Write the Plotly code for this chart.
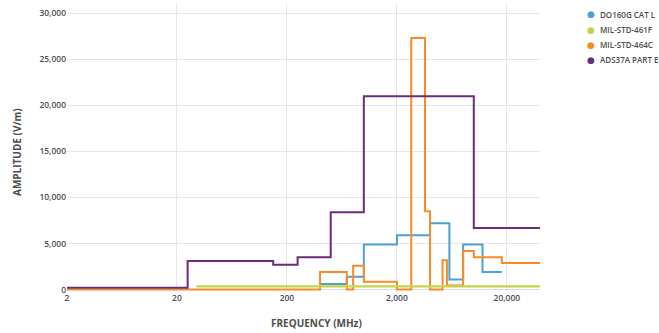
import math
import plotly.graph_objects as go

# ---- data ----
series_names = ["DO160G CAT L", "MIL-STD-461F", "MIL-STD-464C", "ADS37A PART E"]
series_colors = ["#4aa2d4", "#c3d44a", "#f68b27", "#6b2d7b"]

do160g_freq = [400, 700, 1000, 2000, 4000, 6000, 8000, 12000, 18000]
do160g_amp = [600, 1400, 4900, 5900, 7200, 1100, 4900, 1900, 1900]

mil461f_freq = [30, 40000]
mil461f_amp = [350, 350]

mil464c_freq = [2, 400, 700, 800, 1000, 2000, 2700, 3600, 4000, 5200, 5700, 8000, 10000, 18000, 40000]
mil464c_amp = [0, 1900, 0, 2600, 850, 0, 27300, 8500, 0, 3200, 450, 4200, 3500, 2900, 2900]

ads37a_freq = [2, 25, 150, 250, 500, 1000, 10000, 40000]
ads37a_amp = [200, 3100, 2700, 3500, 8400, 21000, 6700, 6700]

x_tick_vals = [2, 20, 200, 2000, 20000]
x_tick_text = ["2", "20", "200", "2,000", "20,000"]
y_tick_vals = [0, 5000, 10000, 15000, 20000, 25000, 30000]
y_tick_text = ["0", "5,000", "10,000", "15,000", "20,000", "25,000", "30,000"]

x_title = "FREQUENCY (MHz)"
y_title = "AMPLITUDE (V/m)"

# ---- figure ----
FONT = "Open Sans"
TXT = "#4d4d4d"
GRID = "#e6e6e6"

series = [
    (do160g_freq, do160g_amp),
    (mil461f_freq, mil461f_amp),
    (mil464c_freq, mil464c_amp),
    (ads37a_freq, ads37a_amp),
]
draw_order = [0, 2, 1, 3]

fig = go.Figure()
for i in draw_order:
    fx, fy = series[i]
    fig.add_trace(go.Scatter(
        x=fx, y=fy, name=series_names[i], mode="lines",
        line=dict(color=series_colors[i], width=2.2 if i == 1 else 2, shape="hv"),
        showlegend=False, hoverinfo="x+y+name",
    ))

plot_l, plot_w, plot_t, plot_h = 67, 473, 4, 287

fig.update_layout(
    width=659, height=333,
    margin=dict(l=67, r=119, t=4, b=42, autoexpand=False),
    paper_bgcolor="white", plot_bgcolor="white",
    font=dict(family=FONT, size=8, color=TXT),
    showlegend=False,
)
fig.update_xaxes(
    type="log", range=[math.log10(2), math.log10(40000)],
    tickvals=x_tick_vals, ticktext=x_tick_text,
    showgrid=True, gridcolor=GRID, gridwidth=1,
    zeroline=False, showline=False, ticks="",
    tickfont=dict(family=FONT, size=8.5, color=TXT, weight=600),
)
fig.update_yaxes(
    range=[-150, 31000],
    tickvals=y_tick_vals, ticktext=y_tick_text,
    showgrid=True, gridcolor=GRID, gridwidth=1,
    zeroline=True, zerolinecolor="#dcdcdc", zerolinewidth=1,
    showline=False, ticks="",
    tickfont=dict(family=FONT, size=8.5, color=TXT, weight=600),
)

# axis titles
fig.add_annotation(x=(316.5 - plot_l) / plot_w, y=1 - (323 - plot_t) / plot_h,
                   xref="paper", yref="paper", text=x_title, showarrow=False,
                   xanchor="center", yanchor="middle",
                   font=dict(family=FONT, size=10, color=TXT, weight="bold"))
fig.add_annotation(x=(17 - plot_l) / plot_w, y=1 - (152 - plot_t) / plot_h,
                   xref="paper", yref="paper", text=y_title, showarrow=False,
                   textangle=-90, xanchor="center", yanchor="middle",
                   font=dict(family=FONT, size=10, color=TXT, weight="bold"))

# legend (dots + labels) at the right
for k, (name, col) in enumerate(zip(series_names, series_colors)):
    ypx = 14.3 + 15.2 * k
    yp = 1 - (ypx - plot_t) / plot_h
    fig.add_annotation(x=(590.5 - plot_l) / plot_w, y=yp, xref="paper", yref="paper",
                       text="●", showarrow=False, xanchor="center", yanchor="middle",
                       font=dict(size=9, color=col, family="DejaVu Sans"))
    fig.add_annotation(x=(598 - plot_l) / plot_w, y=yp, xref="paper", yref="paper",
                       text=name, showarrow=False, xanchor="left", yanchor="middle",
                       font=dict(size=8, color=TXT, family=FONT, weight=600))

fig.write_html("out.html", config={"displayModeBar": False},
               post_script="document.body.style.margin='0px';document.body.style.overflow='hidden';")
